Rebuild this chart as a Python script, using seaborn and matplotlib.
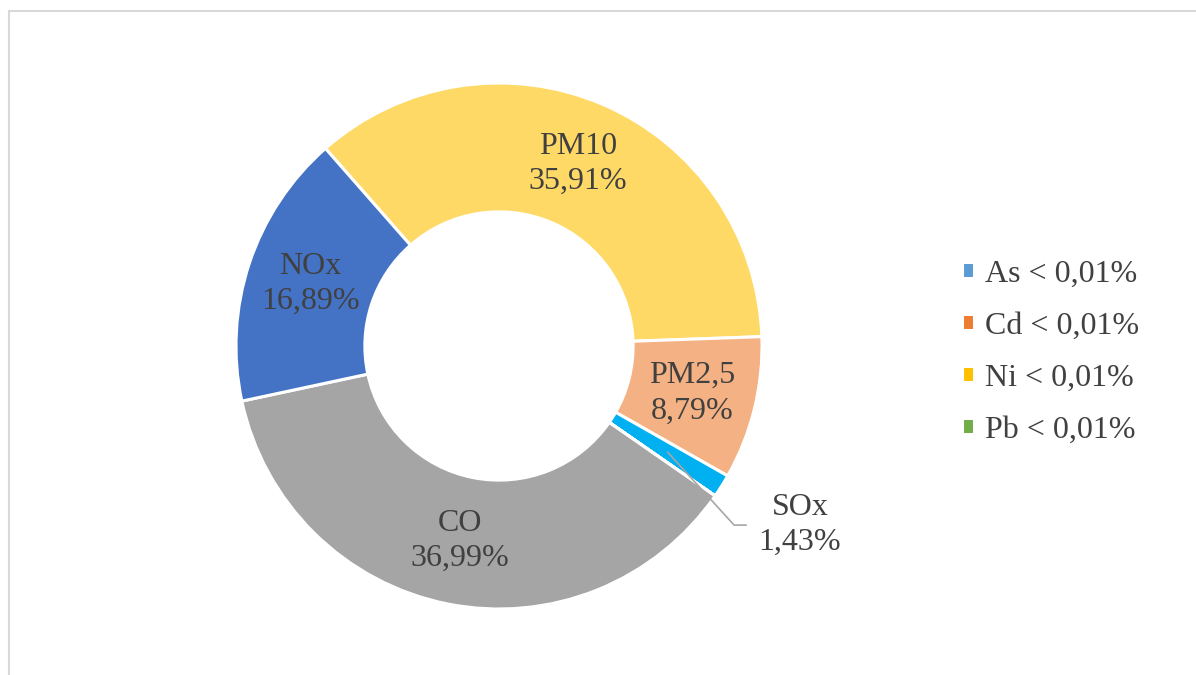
import numpy as np
import seaborn as sns
import matplotlib
matplotlib.use("Agg")
from matplotlib import pyplot as plt
from matplotlib.lines import Line2D

# Emission shares (%), in clockwise order starting at the NOx/PM10 border
pollutants = ["PM10", "PM2,5", "SOx", "As", "Cd", "Ni", "Pb", "CO", "NOx"]
shares = [35.91, 8.79, 1.43, 0.0, 0.0, 0.0, 0.0, 36.99, 16.89]
share_labels = ["35,91%", "8,79%", "1,43%", "< 0,01%", "< 0,01%", "< 0,01%", "< 0,01%", "36,99%", "16,89%"]
colors = ["#FFD966", "#F4B183", "#00B0F0", "#5B9BD5", "#ED7D31", "#FFC000", "#70AD47", "#A5A5A5", "#4472C4"]
legend_items = ["As", "Cd", "Ni", "Pb"]

sns.set_theme(style="white")
plt.rcParams["font.family"] = ["Liberation Serif", "DejaVu Serif"]
text_color = "#404040"
fs = 23

fig = plt.figure(figsize=(11.96, 6.75), dpi=100)
W, H = 1196, 675
cx, cy, R = 499, 346, 263
ax = fig.add_axes([(cx - R) / W, (H - cy - R) / H, 2 * R / W, 2 * R / H])

wedges, _ = ax.pie(shares, colors=colors, startangle=131.3, counterclock=False,
                   radius=1.0, wedgeprops=dict(width=0.49, edgecolor="white", linewidth=2.2))
ax.set_xlim(-1, 1)
ax.set_ylim(-1, 1)
ax.set_aspect("equal")
ax.axis("off")

# Data labels inside the ring (SOx gets a leader line outside)
for w, name, lab, val in zip(wedges, pollutants, share_labels, shares):
    if val == 0:
        continue
    mid = np.deg2rad((w.theta1 + w.theta2) / 2)
    if name == "SOx":
        x0, y0 = 0.757 * np.cos(mid), 0.757 * np.sin(mid)
        ax.add_line(Line2D([x0, 0.894, 0.94], [y0, -0.681, -0.681], color="#A6A6A6", lw=1.2, clip_on=False))
        ax.text(1.144, -0.681, f"{name}\n{lab}", ha="center", va="center", fontsize=fs,
                color=text_color, linespacing=1.28)
        continue
    r = 0.755
    ax.text(r * np.cos(mid), r * np.sin(mid), f"{name}\n{lab}", ha="center", va="center",
            fontsize=fs, color=text_color, linespacing=1.28)

# Legend only for the tiny heavy metals
handles = [wedges[pollutants.index(p)] for p in legend_items]
fig.legend(handles, [f"{p} < 0,01%" for p in legend_items], loc="center left",
           bbox_to_anchor=(962 / W, 1 - 352 / H), frameon=False, fontsize=fs,
           labelcolor=text_color, handlelength=0.38, handleheight=0.38,
           handletextpad=0.35, labelspacing=0.72, borderpad=0, borderaxespad=0)

# Chart area border (top and left visible)
fig.add_artist(Line2D([9 / W, 9 / W], [0, 1 - 10.5 / H], color="#D9D9D9", lw=1.5))
fig.add_artist(Line2D([9 / W, 1], [1 - 10.5 / H, 1 - 10.5 / H], color="#D9D9D9", lw=1.5))

fig.savefig("out.png", dpi=100)
plt.close(fig)
